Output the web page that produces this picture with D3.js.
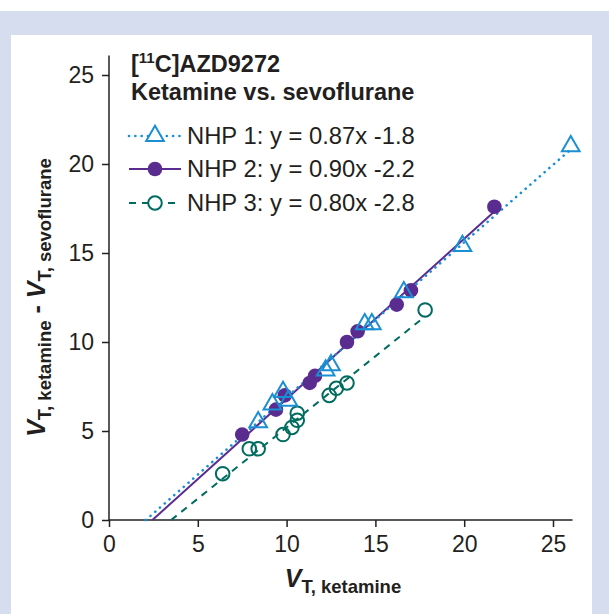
<!DOCTYPE html>
<html>
<head>
<meta charset="utf-8">
<script src="https://cdn.jsdelivr.net/npm/d3@7"></script>
<style>
  body { margin: 0; background: #fff; }
  text { font-family: "Liberation Sans", Arial, sans-serif; fill: #231f20; }
</style>
</head>
<body>
<svg id="chart"></svg>
<script>
// NHP 1 (open triangles, dotted fit)
var nhp1X = [8.4, 9.2, 9.8, 10.1, 12.2, 12.5, 14.4, 14.8, 16.6, 19.9, 26.0];
var nhp1Y = [5.5, 6.5, 7.2, 6.7, 8.4, 8.7, 11.0, 11.0, 12.8, 15.4, 21.0];
// NHP 2 (filled circles, solid fit)
var nhp2X = [7.5, 9.4, 9.9, 11.3, 11.6, 13.4, 14.0, 16.2, 17.0, 21.7];
var nhp2Y = [4.8, 6.2, 7.0, 7.7, 8.1, 10.0, 10.6, 12.1, 12.9, 17.6];
// NHP 3 (open circles, dashed fit)
var nhp3X = [6.4, 7.9, 8.4, 9.8, 10.3, 10.6, 10.6, 12.4, 12.8, 13.4, 17.8];
var nhp3Y = [2.6, 4.0, 4.0, 4.8, 5.2, 5.6, 6.0, 7.0, 7.4, 7.7, 11.8];

var seriesNames = ["NHP 1", "NHP 2", "NHP 3"];
var slopes = [0.87, 0.90, 0.80];
var intercepts = [-1.8, -2.2, -2.8];
var equations = ["y = 0.87x -1.8", "y = 0.90x -2.2", "y = 0.80x -2.8"];
var ticks = [0, 5, 10, 15, 20, 25];

var colors = {
	"nhp1" : "#1a8fd3",
	"nhp2" : "#5b2c90",
	"nhp3" : "#006b5f"
};

var w = 609, h = 614;
var svg = d3.select("#chart").attr("width", w).attr("height", h);

// page frame
svg.append("rect").attr("x", 0).attr("y", 11).attr("width", w).attr("height", h - 11)
	.style("fill", "#d5ddee");
svg.append("rect").attr("x", 11).attr("y", 35).attr("width", 581).attr("height", h - 35)
	.style("fill", "#ffffff");

var x = d3.scaleLinear().domain([0, 25]).range([109, 553]);
var y = d3.scaleLinear().domain([0, 25]).range([520, 75]);
var axisMax = 26.1;

// axes
var xAxis = svg.append("g").attr("transform", "translate(0," + y(0) + ")")
	.call(d3.axisBottom(x).tickValues(ticks).tickSize(7).tickSizeOuter(0).tickPadding(9));
xAxis.select(".domain").attr("d", "M" + x(0) + ",0H" + x(axisMax));

var yAxis = svg.append("g").attr("transform", "translate(" + x(0) + ",0)")
	.call(d3.axisLeft(y).tickValues(ticks).tickSize(7).tickSizeOuter(0).tickPadding(8));
yAxis.select(".domain").attr("d", "M0," + y(0) + "V" + y(axisMax));

svg.selectAll(".domain, .tick line").style("stroke", "#231f20").style("stroke-width", 1.5);
svg.selectAll(".tick text").style("font-size", "23px")
	.style("font-family", "'Liberation Sans', Arial, sans-serif").style("fill", "#231f20");

// fit lines: from x-intercept to largest x of each series
var series = [
	{ key: "nhp1", xs: nhp1X, ys: nhp1Y, dash: "0.1,6.2", cap: "round", sw: 2.6 },
	{ key: "nhp2", xs: nhp2X, ys: nhp2Y, dash: null, cap: "butt", sw: 2 },
	{ key: "nhp3", xs: nhp3X, ys: nhp3Y, dash: "7,6", cap: "butt", sw: 2 }
];

[2, 1, 0].forEach(function(i) {
	var s = series[i];
	var x0 = -intercepts[i] / slopes[i];
	var x1 = d3.max(s.xs);
	svg.append("line")
		.attr("x1", x(x0)).attr("y1", y(slopes[i] * x0 + intercepts[i]))
		.attr("x2", x(x1)).attr("y2", y(slopes[i] * x1 + intercepts[i]))
		.style("stroke", colors[s.key])
		.style("stroke-width", s.sw)
		.style("stroke-linecap", s.cap)
		.style("stroke-dasharray", s.dash);
});

function drawMarker(g, key) {
	if (key == "nhp1") {
		return g.append("path")
			.attr("d", d3.symbol(d3.symbolTriangle, 135)())
			.style("fill", "none")
			.style("stroke", colors.nhp1).style("stroke-width", 2);
	} else if (key == "nhp2") {
		return g.append("circle").attr("r", 7.3)
			.style("fill", colors.nhp2);
	} else {
		return g.append("circle").attr("r", 6.8)
			.style("fill", "none")
			.style("stroke", colors.nhp3).style("stroke-width", 2);
	}
}

// points: teal, purple, then triangles on top
[2, 1, 0].forEach(function(i) {
	var s = series[i];
	s.xs.forEach(function(v, j) {
		var g = svg.append("g")
			.attr("transform", "translate(" + x(v) + "," + y(s.ys[j]) + ")");
		drawMarker(g, s.key);
	});
});

// title
var title = svg.append("text").attr("x", 131).attr("y", 72)
	.style("font-size", "23.5px").style("font-weight", "bold");
title.append("tspan").text("[");
title.append("tspan").attr("dy", -9).style("font-size", "15px").text("11");
title.append("tspan").attr("dy", 9).text("C]AZD9272");
svg.append("text").attr("x", 131).attr("y", 100)
	.style("font-size", "23.5px").style("font-weight", "bold")
	.text("Ketamine vs. sevoflurane");

// legend
var legendY = [136, 169, 203];
series.forEach(function(s, i) {
	var ly = legendY[i];
	svg.append("line")
		.attr("x1", 129).attr("x2", 181).attr("y1", ly).attr("y2", ly)
		.style("stroke", colors[s.key])
		.style("stroke-width", s.sw)
		.style("stroke-linecap", s.cap)
		.style("stroke-dasharray", s.dash);
	var g = svg.append("g").attr("transform", "translate(155," + ly + ")");
	var m = drawMarker(g, s.key);
	if (s.key != "nhp2") m.style("fill", "#ffffff");
	svg.append("text").attr("x", 187).attr("y", ly + 8)
		.style("font-size", "23.8px")
		.text(seriesNames[i] + ": " + equations[i]);
});

// x axis title
var xt = svg.append("text").attr("x", 343).attr("y", 587)
	.attr("text-anchor", "middle").style("font-weight", "bold");
xt.append("tspan").style("font-size", "25px").style("font-style", "italic").text("V");
xt.append("tspan").attr("dy", 6).style("font-size", "18.5px").text("T, ketamine");

// y axis title
var yt = svg.append("text")
	.attr("transform", "translate(45," + ((y(0) + y(25)) / 2) + ") rotate(-90)")
	.attr("text-anchor", "middle").style("font-weight", "bold");
yt.append("tspan").style("font-size", "25px").style("font-style", "italic").text("V");
yt.append("tspan").attr("dy", 6).style("font-size", "18.5px").text("T, ketamine");
yt.append("tspan").attr("dy", -6).style("font-size", "25px").text(" - ");
yt.append("tspan").style("font-size", "25px").style("font-style", "italic").text("V");
yt.append("tspan").attr("dy", 6).style("font-size", "18.5px").text("T, sevoflurane");
</script>
</body>
</html>
